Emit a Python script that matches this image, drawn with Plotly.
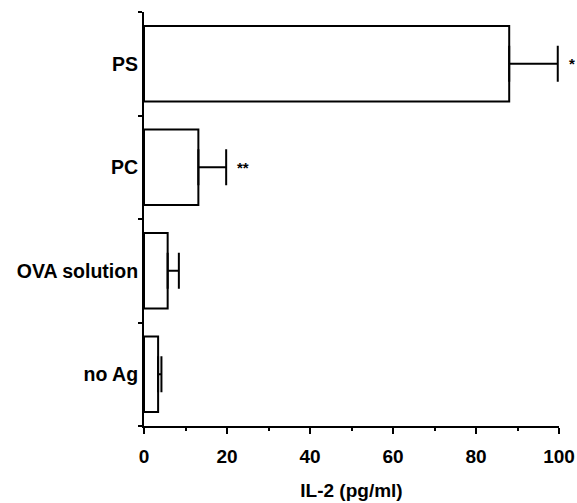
import plotly.graph_objects as go

categories = ["no Ag", "OVA solution", "PC", "PS"]
il2_mean = [3.4, 5.7, 13.1, 88.0]
il2_err = [0.8, 2.7, 6.7, 11.7]
sig_labels = ["", "", "**", "*"]
x_ticks = [0, 20, 40, 60, 80, 100]

FONT = "Liberation Sans, Arial, sans-serif"

fig = go.Figure()
fig.add_trace(go.Bar(
    x=il2_mean, y=categories, orientation="h",
    width=0.73,
    marker=dict(color="white", line=dict(color="black", width=2)),
    error_x=dict(type="data", array=il2_err, symmetric=False, arrayminus=[0]*4,
                 color="black", thickness=2, width=18),
    showlegend=False,
))

for cat, m, e, s in zip(categories, il2_mean, il2_err, sig_labels):
    if s:
        fig.add_annotation(x=m + e, y=cat, text="<b>" + s + "</b>", showarrow=False,
                           xanchor="left", yanchor="middle", xshift=9,
                           font=dict(family=FONT, size=15, color="black"))

fig.update_layout(
    width=577, height=503,
    margin=dict(l=144, r=18, t=12, b=77),
    paper_bgcolor="white", plot_bgcolor="white",
    font=dict(family=FONT, color="black"),
    bargap=0.27,
)
fig.update_xaxes(
    range=[0, 100], tickvals=x_ticks, ticktext=["<b>%d</b>" % v for v in x_ticks],
    tickfont=dict(size=19, family=FONT),
    showline=True, linecolor="black", linewidth=2,
    ticks="outside", ticklen=6, tickwidth=2, tickcolor="black",
    ticklabelstandoff=6,
    minor=dict(dtick=10, tick0=0, ticks="outside", ticklen=3, tickwidth=2, tickcolor="black"),
    showgrid=False, zeroline=False, automargin=False,
    title=dict(text="<b>IL-2 (pg/ml)</b>", font=dict(size=19, family=FONT), standoff=18),
)
fig.update_yaxes(
    type="category", categoryorder="array", categoryarray=categories,
    range=[-0.5, 3.5],
    tickvals=categories, ticktext=["<b>%s</b>" % c for c in categories],
    tickfont=dict(size=19.5, family=FONT),
    tickson="boundaries",
    showline=True, linecolor="black", linewidth=2,
    ticks="outside", ticklen=4, tickwidth=2, tickcolor="black",
    showgrid=False, zeroline=False, automargin=False,
)

fig.write_html(
    "out.html",
    config={"displayModeBar": False},
    post_script="document.body.style.margin='0';document.body.style.overflow='hidden';",
)
